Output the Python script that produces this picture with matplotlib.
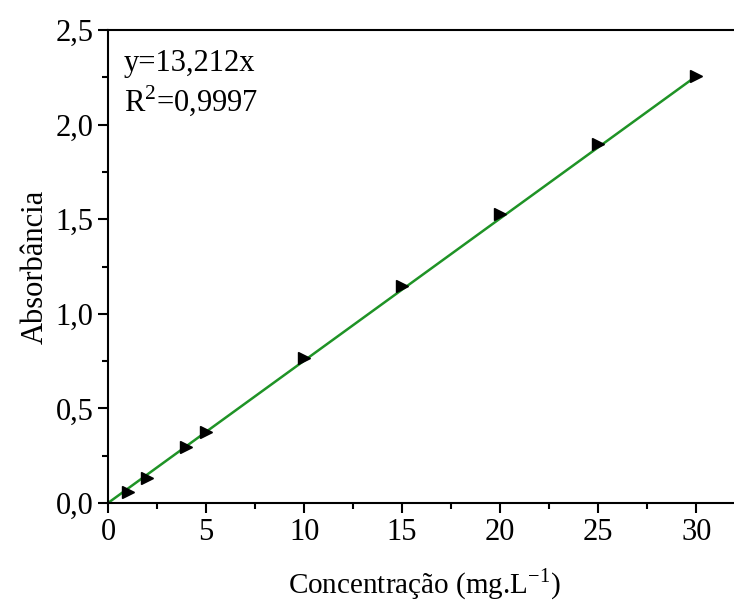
import numpy as np
import matplotlib.pyplot as plt
from matplotlib.ticker import MultipleLocator, FuncFormatter

plt.rcParams['font.family'] = ['Liberation Serif', 'DejaVu Serif']
plt.rcParams['mathtext.fontset'] = 'custom'
plt.rcParams['mathtext.rm'] = 'Liberation Serif'

# calibration data
conc = [1, 2, 4, 5, 10, 15, 20, 25, 30]
absorb = [0.06, 0.13, 0.295, 0.375, 0.765, 1.145, 1.525, 1.90, 2.255]
slope = 0.0752
fit_x = [0, 30]

fig = plt.figure(figsize=(7.34, 6.05), dpi=100)
ax = fig.add_axes([108/734, 1 - 503/605, 1 - 108/734 + 0.01, 473/605])

ax.plot(fit_x, [slope * v for v in fit_x], color='#1f9326', linewidth=1.8, zorder=2)
ax.plot(conc, absorb, linestyle='none', marker='>', color='black', markersize=9, zorder=3)

ax.set_xlim(0, 32.3)
ax.set_ylim(0, 2.5)
ax.xaxis.set_major_locator(MultipleLocator(5))
ax.xaxis.set_minor_locator(MultipleLocator(2.5))
ax.yaxis.set_major_locator(MultipleLocator(0.5))
ax.yaxis.set_minor_locator(MultipleLocator(0.25))
ax.yaxis.set_major_formatter(FuncFormatter(lambda v, p: f'{v:.1f}'.replace('.', ',')))
ax.tick_params(which='major', direction='out', length=7, width=1.5, labelsize=22)
ax.tick_params(which='minor', direction='out', length=4, width=1.5)
ax.spines['right'].set_visible(False)
for s in ['left', 'bottom', 'top']:
    ax.spines[s].set_linewidth(1.5)

ax.set_xlabel('Concentração (mg.L$^{-1}$)', fontsize=21, labelpad=14)
ax.set_ylabel('Absorbância', fontsize=22, labelpad=4)

ax.text(0.025, 0.93, 'y=13,212x', transform=ax.transAxes, fontsize=22, va='center')
ax.text(0.025, 0.85, 'R$^2$=0,9997', transform=ax.transAxes, fontsize=22, va='center')

fig.savefig('out.png', dpi=100)
